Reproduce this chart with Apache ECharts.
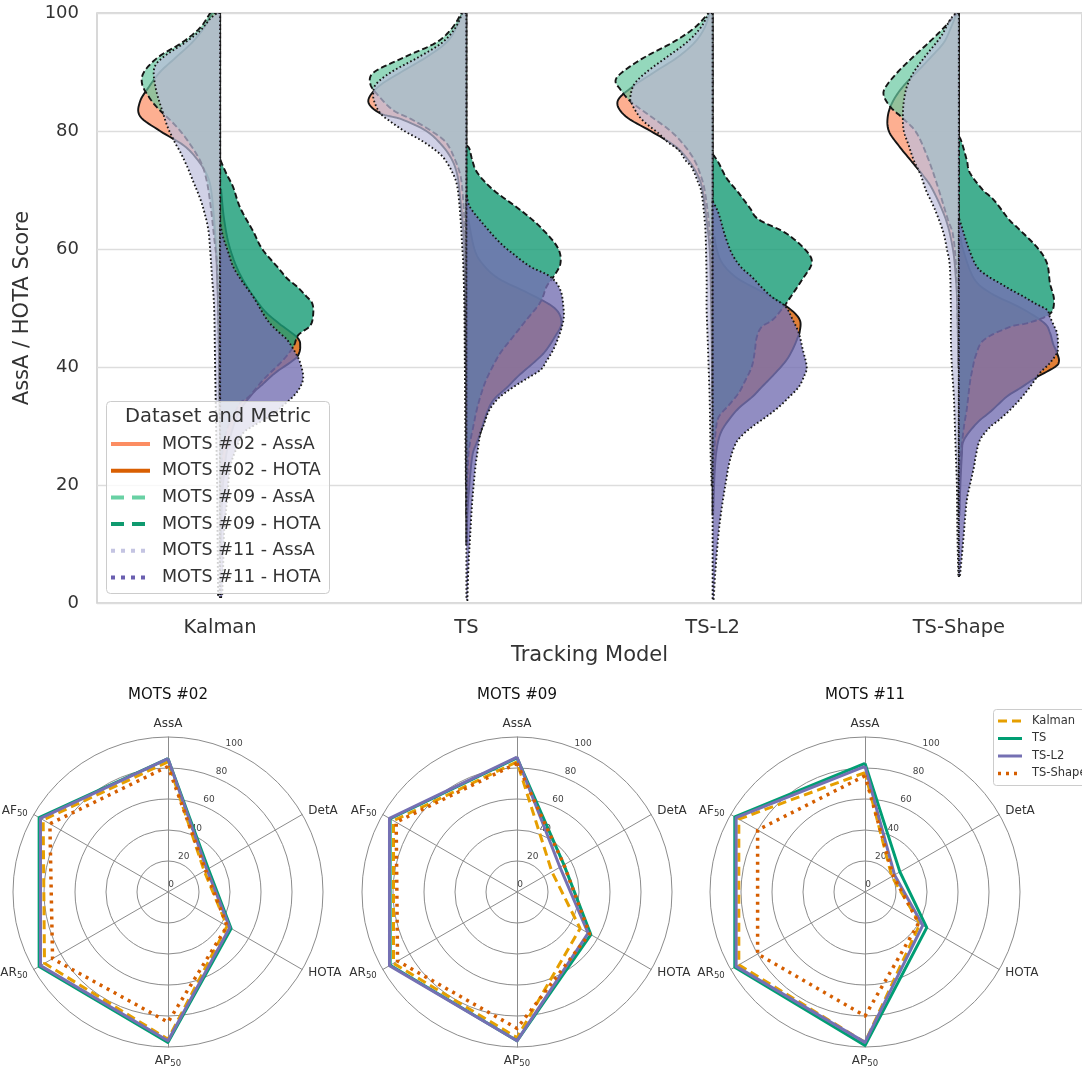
<!DOCTYPE html>
<html lang="en">
<head>
    <meta charset="utf-8">
    <title>Tracking model violins and radars</title>
    <script src="https://cdn.jsdelivr.net/npm/echarts@6/dist/echarts.min.js"></script>
    <style>
        html, body { margin: 0; padding: 0; background: #fff; }
        #main { width: 1082px; height: 1071px; }
    </style>
</head>
<body>
    <div id="main"></div>
    <script type="text/javascript">

    // --- violin part: categories and KDE profiles ---
    // each profile is a list of [score, density] pairs, density in units where 123 = a full half band
    var models = ['Kalman', 'TS', 'TS-L2', 'TS-Shape'];
    var DENS_HALF = 123;

    var assa02 = [
        [[100,8],[97.5,16],[95,28],[92.5,44],[90,60],[87.5,71],[85,80],[82.5,80],[80,60],[77.5,36],[75,22],[72.5,13],[70,9],[65,6],[60,4],[55,3],[50,2],[40,1],[30,0.5]],
        [[100,4],[97.5,10],[95,20],[92.5,40],[90,65],[87.5,88],[85,98],[83,86],[82,65],[80,40],[77.5,24],[75,14],[72.5,9],[70,7],[65,4],[60,2],[50,1],[40,0.5]],
        [[100,3],[97.5,8],[95,18],[92.5,35],[90,58],[87.5,80],[85,95],[82.5,87],[80,62],[77.5,38],[75,24],[72.5,15],[70,10],[65,6],[60,3],[55,2],[45,1],[35,0.5]],
        [[100,2],[97.5,8],[95,15],[92.5,28],[90,42],[87.5,56],[85,66],[82.5,71],[80,70],[77.5,60],[75,48],[72.5,36],[70,26],[65,13],[60,6],[55,3],[50,1.5],[40,0.5]]
    ];
    var assa09 = [
        [[100,10],[97.5,20],[95,38],[92.5,62],[90,76],[88,78],[86,72],[84,63],[81,45],[78.5,33],[75,20],[72,14],[68,10],[62,6],[57,3],[50,2],[40,1],[30,0.5]],
        [[100,5],[97.5,14],[95,30],[92.5,62],[90,92],[88,96],[86,88],[83.5,73],[82,55],[80,35],[78,20],[75,11],[72.5,6],[70,4],[65,2],[60,1],[50,0.5]],
        [[100,4],[97.5,18],[95,40],[92.5,68],[90,90],[88.5,97],[87,92],[85,82],[82.5,62],[80,42],[77.5,28],[75,18],[72.5,12],[70,8],[65,4],[60,2],[55,1],[45,0.5]],
        [[100,2],[97.5,15],[95,30],[92.5,46],[90,61],[87.5,73],[86,75],[84,68],[82,55],[79.6,42],[75,30],[70,20],[65,11],[62.5,6],[57.5,3],[50,1.5],[40,0.5]]
    ];
    var assa11 = [
        [[100,3],[99,10],[97,20],[95,35],[92.5,57],[90.5,66],[87,64],[83,57],[80.5,52],[78,45],[76.5,40],[74,33],[71.5,27],[69,21],[67,17],[63.5,12],[60,10],[55,8],[50,6],[40,5],[30,4],[20,3],[10,2.5],[1,2]],
        [[100,4],[97.5,11],[95,24],[92.5,48],[90,75],[88,90],[86.5,93],[85,92],[83,86],[81.5,75],[80,62],[78.5,46],[77,33],[75.5,23],[73,14],[70.5,9],[65.5,6],[60,4],[57,3],[50,2],[40,1.5],[30,1],[20,0.5]],
        [[100,4],[97.5,12],[95,26],[92.5,46],[90,66],[88,78],[86,82],[84.7,81],[82,71],[79.6,54],[78,44],[76.8,34],[75,27],[73.9,21],[71.5,15],[69.5,11],[65,8],[62.5,7],[55,6],[50,6],[45,5],[40,4],[35,3],[30,2.5],[25,2],[20,1]],
        [[100,3],[98.8,9],[96,18],[93,32],[90,45],[87.5,52],[85,55],[82.5,56],[80,55],[77.5,50],[75,45],[72.5,38],[70,33],[67.5,26],[65,20],[62.5,15],[60,12],[57,9],[50,8],[45,8],[40,7],[35,5],[30,4],[25,3],[20,2],[12,1.5],[4.5,0.5]]
    ];
    var hota02 = [
        [[70,1],[65,4],[60,10],[55,22],[50,42],[47.5,58],[45,77],[43.5,80],[42,78],[41,72],[39,55],[37,42],[35.6,33],[32.7,20],[29.8,13],[26,7],[22,4],[18,2],[12,1],[8,0.5]],
        [[65,2],[60,8],[57.5,16],[55,32],[52.5,62],[50,88],[47.5,95],[45,88],[42.5,78],[40.7,67],[38.5,52],[36.6,41],[34.4,27],[32,20],[28.8,14],[27,10],[25,6],[20,3],[15,1],[10,0.5]],
        [[62,2],[60,4],[57.5,10],[55,25],[52.5,52],[50,76],[48,87],[46,87],[45,85],[43,80],[41,73],[38.5,60],[36.6,49],[35,40],[33,26],[31,16],[28.8,8],[26,4],[22,2],[15,0.5]],
        [[62,2],[60,4],[55,15],[52.5,32],[50,62],[47.5,85],[45.8,91],[44,94],[42.4,98],[41,100],[40,96],[38.3,78],[36.5,62],[35,48],[32.5,32],[30.5,18],[27.6,5],[25,3],[20,1.5],[15,0.5]]
    ];
    var hota09 = [
        [[75,0.5],[74,3],[72.5,7],[70.5,13],[67,20],[63,33],[60,42],[57,57],[55,67],[53.6,77],[52,86],[50.8,92],[49,93],[47,90],[45.4,78],[43.4,73],[41,62],[38,44],[35,29],[33.9,20],[32,14],[30,8],[27.5,4],[25,2],[20,1],[15,0.5]],
        [[77.5,0.5],[77,3],[75,6],[72.9,11],[70,27],[66.6,54],[63.7,74],[60.3,91],[57.6,94],[55.3,87],[53.6,80],[51,74],[48,60],[45,46],[42.4,34],[40,26],[37.5,19],[35,14],[32.5,10],[30,7],[27.5,4],[25,2],[20,1],[15,0.5]],
        [[76,0.5],[74.6,6],[72,14],[69.5,26],[67,37],[65,46],[62.7,73],[59.8,93],[57.6,99],[54.7,89],[51.4,76],[50.2,71],[48,60],[46.8,49],[45,44],[42.5,42],[40,39],[37.5,32],[35.6,26],[33.5,16],[31.5,6],[29,3],[25,1.5],[20,0.5]],
        [[79,0.5],[78,3],[75,8],[72.9,11],[70,24],[68.3,35],[65,50],[63.7,58],[60.3,78],[57.6,88],[54.2,91],[51.4,95],[49,91],[47.5,70],[46.8,51],[44.6,25],[42,17],[40,14],[37.3,11],[33,8],[29.8,5],[25,2],[20,1],[15,0.5]]
    ];
    var hota11 = [
        [[64,0.5],[62,3],[59.5,8],[57,13],[54.5,22],[51.9,33],[48,47],[46,58],[44.6,67],[42.5,75],[40.7,80],[38.3,83],[36.6,80],[35,73],[33.5,63],[32,53],[30,33],[28.8,23],[26.5,17],[23,10],[17.5,7],[12,4],[6,3],[1,2]],
        [[69,0.5],[67,4],[64,18],[61,34],[59,48],[57,64],[55.3,84],[53,94],[50,97],[48,97],[45.5,93],[43,87],[41,80],[39.5,74],[38,60],[36.6,47],[35,34],[33.5,26],[32,21],[30,17],[28.8,14],[25.5,11],[23,9],[17.5,6],[12,4],[6,2],[0.5,1]],
        [[68,0.5],[66,6],[62.5,12],[59.3,19],[57,28],[55.3,39],[53.5,49],[51.9,59],[50.2,73],[48,80],[45.8,86],[43,90],[40,94],[38.3,91],[36.6,86],[35,77],[33.2,66],[31.5,53],[29.8,39],[28.5,30],[27,23],[24,17],[20.3,13],[16,9],[11.9,6],[6,3],[0.5,1]],
        [[65,0.5],[63.7,3],[60,10],[57,18],[55.5,28],[54.2,41],[53,53],[51.9,65],[50.7,77],[49.7,88],[48.5,91],[47,95],[45.8,98],[44,99],[42.4,98],[40.5,90],[39,81],[36.6,71],[34.5,61],[32.7,51],[31,40],[29.8,31],[27.6,21],[25,17],[23,15],[20,11],[17.5,8],[14,6],[11.9,5],[8,3],[4.4,1]]
    ];

    var violinNames = ['MOTS #02 - AssA', 'MOTS #02 - HOTA', 'MOTS #09 - AssA', 'MOTS #09 - HOTA', 'MOTS #11 - AssA', 'MOTS #11 - HOTA'];

    // --- radar part: scores in clockwise order from the top ---
    var radarAxes = ['AssA', 'DetA', 'HOTA', 'AP50', 'AR50', 'AF50'];
    var radarTitles = ['MOTS #02', 'MOTS #09', 'MOTS #11'];
    var radarTicks = [0, 20, 40, 60, 80, 100];
    var radar02 = [
        [84, 27, 44, 95, 92, 93],   // Kalman
        [86, 30, 47, 97, 96, 96],   // TS
        [86, 29, 46, 96, 95, 95],   // TS-L2
        [81, 28, 44, 84, 86, 88]    // TS-Shape
    ];
    var radar09 = [
        [84, 26, 47, 94, 92, 92],
        [86.5, 35, 55, 96, 94.5, 94.5],
        [87, 32, 53, 96, 95, 95],
        [83, 35, 54, 88, 89, 90]
    ];
    var radar11 = [
        [77, 20, 41, 97, 94, 94],
        [83, 26, 46, 99, 97, 97],
        [81, 22, 43, 97, 96, 96],
        [75, 21, 40, 80, 80, 80]
    ];

    var FONT = 'DejaVu Sans';

    // catmull-rom through the profile points so the outline is smooth
    function smoothPts(pts, n) {
        var out = [];
        for (var i = 0; i < pts.length - 1; i++) {
            var p0 = pts[Math.max(i - 1, 0)], p1 = pts[i], p2 = pts[i + 1], p3 = pts[Math.min(i + 2, pts.length - 1)];
            for (var t = 0; t < n; t++) {
                var s = t / n, s2 = s * s, s3 = s2 * s;
                var pt = [0, 1].map(function (k) {
                    return 0.5 * ((2 * p1[k]) + (-p0[k] + p2[k]) * s +
                        (2 * p0[k] - 5 * p1[k] + 4 * p2[k] - p3[k]) * s2 +
                        (-p0[k] + 3 * p1[k] - 3 * p2[k] + p3[k]) * s3);
                });
                out.push(pt);
            }
        }
        out.push(pts[pts.length - 1]);
        return out;
    }

    function violinRender(assaP, hotaP, fillL, fillR, dash) {
        return function (params, api) {
            var cat = api.value(0), side = api.value(1);
            var prof = side < 0 ? assaP[cat] : hotaP[cat];
            var half = api.size([1, 0])[0] / 2;
            var cx = api.coord([cat, 50])[0];
            var raw = prof.map(function (p) {
                var c = api.coord([cat, p[0]]);
                return [c[0] + side * p[1] / DENS_HALF * half, c[1]];
            });
            var curve = smoothPts(raw, 8).map(function (p) {
                return [side < 0 ? Math.min(p[0], cx) : Math.max(p[0], cx), p[1]];
            });
            var top = api.coord([cat, prof[0][0]]);
            var bot = api.coord([cat, prof[prof.length - 1][0]]);
            var pts = [top].concat(curve, [bot]);
            return {
                type: 'polygon',
                shape: { points: pts },
                style: {
                    fill: side < 0 ? fillL : fillR,
                    stroke: '#151515',
                    lineWidth: 1.9,
                    lineDash: dash
                }
            };
        };
    }

    var violinData = [];
    models.forEach(function (m, i) { violinData.push([i, -1]); violinData.push([i, 1]); });

    var violinSeries = [
        { a: assa02, h: hota02, l: 'rgba(252,141,98,0.7)', r: 'rgba(217,95,2,0.8)', d: null },
        { a: assa09, h: hota09, l: 'rgba(102,200,160,0.7)', r: 'rgba(27,158,119,0.82)', d: [6, 3] },
        { a: assa11, h: hota11, l: 'rgba(188,189,220,0.7)', r: 'rgba(117,112,179,0.8)', d: [1.6, 2.4] }
    ].map(function (s, k) {
        return {
            type: 'custom',
            name: 'violin' + k,
            xAxisIndex: 0,
            yAxisIndex: 0,
            clip: true,
            renderItem: violinRender(s.a, s.h, s.l, s.r, s.d),
            encode: { x: 0, y: -1 },
            data: violinData,
            silent: true
        };
    });

    // --- radars ---
    var centers = [[168, 892], [517, 892], [865, 892]];
    var RADAR_R = 155;
    // echarts places indicators counter-clockwise, the figure reads clockwise
    var ccwOrder = [0, 5, 4, 3, 2, 1];
    var methodStyles = [
        { name: 'Kalman', color: '#e69f00', type: [9, 5], width: 3 },
        { name: 'TS', color: '#009e73', type: 'solid', width: 3 },
        { name: 'TS-L2', color: '#7570b3', type: 'solid', width: 3 },
        { name: 'TS-Shape', color: '#d55e00', type: [3, 5], width: 3.5 }
    ];
    var radarScores = [radar02, radar09, radar11];

    function fmtName(name) {
        return name.replace(/^(\D+)(\d+)$/, '$1{sub|$2}');
    }

    var radars = centers.map(function (c) {
        return {
            center: c,
            radius: RADAR_R,
            startAngle: 90,
            shape: 'circle',
            splitNumber: 5,
            indicator: ccwOrder.map(function (j) { return { name: radarAxes[j], min: 0, max: 100 }; }),
            axisName: {
                color: '#333', fontSize: 12, fontFamily: FONT,
                formatter: fmtName,
                rich: { sub: { fontSize: 8.5, color: '#333', fontFamily: FONT, verticalAlign: 'bottom', padding: [5, 0, 0, 0] } }
            },
            nameGap: 7,
            splitLine: { lineStyle: { color: '#8c8c8c', width: 1 } },
            splitArea: { show: false },
            axisLine: { lineStyle: { color: '#8c8c8c', width: 1 } },
            axisTick: { show: false },
            axisLabel: { show: false }
        };
    });

    var radarSeries = radarScores.map(function (scores, r) {
        return {
            type: 'radar',
            radarIndex: r,
            symbol: 'none',
            silent: true,
            data: scores.map(function (vals, m) {
                return {
                    name: methodStyles[m].name,
                    value: ccwOrder.map(function (j) { return vals[j]; }),
                    lineStyle: { color: methodStyles[m].color, width: methodStyles[m].width, type: methodStyles[m].type },
                    itemStyle: { color: methodStyles[m].color }
                };
            })
        };
    });

    // radial tick labels come from a hidden polar system laid over each radar;
    // its axis starts a little below 0 so the labels sit just outside each ring
    var LABEL_PAD = 5;
    var polars = centers.map(function (c) {
        return { center: c, radius: RADAR_R * (100 + LABEL_PAD) / 100 };
    });
    var angleAxes = centers.map(function (c, i) {
        return { polarIndex: i, type: 'value', min: 0, max: 360, startAngle: 66, show: false };
    });
    var radiusAxes = centers.map(function (c, i) {
        return {
            polarIndex: i, type: 'value', min: -LABEL_PAD, max: 100,
            axisLine: { show: false }, axisTick: { show: false }, splitLine: { show: false },
            axisLabel: {
                customValues: radarTicks,
                fontSize: 9, color: '#444', fontFamily: FONT, margin: 0,
                align: 'center', verticalAlign: 'middle'
            }
        };
    });

    // --- legends and small titles as graphic text ---
    var violinLegendStyles = [
        { c: '#fc8d62', d: null }, { c: '#d95f02', d: null },
        { c: '#69d1a4', d: [13, 8] }, { c: '#0f9a6f', d: [13, 8] },
        { c: '#c4c4e2', d: [4, 6] }, { c: '#6a5fb0', d: [4, 6] }
    ];
    var graphics = [
        { type: 'rect', z: 100, shape: { x: 106.5, y: 401.5, width: 223, height: 192, r: 4 },
          style: { fill: 'rgba(255,255,255,0.8)', stroke: '#cccccc', lineWidth: 1 } },
        { type: 'text', z: 101, x: 218, y: 417,
          style: { text: 'Dataset and Metric', fill: '#333', font: '19.5px "DejaVu Sans"', align: 'center', verticalAlign: 'middle' } }
    ];
    violinNames.forEach(function (n, i) {
        var y = 444 + i * 26.7;
        graphics.push({ type: 'line', z: 101, shape: { x1: 111, y1: y, x2: 150, y2: y },
            style: { stroke: violinLegendStyles[i].c, lineWidth: 4, lineDash: violinLegendStyles[i].d } });
        graphics.push({ type: 'text', z: 101, x: 162, y: y,
            style: { text: n, fill: '#333', font: '17.5px "DejaVu Sans"', align: 'left', verticalAlign: 'middle' } });
    });
    radarTitles.forEach(function (t, i) {
        graphics.push({ type: 'text', z: 101, x: centers[i][0], y: 695,
            style: { text: t, fill: '#111', font: '15px "DejaVu Sans"', align: 'center', verticalAlign: 'middle' } });
    });
    graphics.push({ type: 'rect', z: 100, shape: { x: 993.5, y: 709.5, width: 100, height: 76, r: 3 },
        style: { fill: 'rgba(255,255,255,0.8)', stroke: '#cccccc', lineWidth: 1 } });
    methodStyles.forEach(function (m, i) {
        var y = 721 + i * 17.5;
        graphics.push({ type: 'line', z: 101, shape: { x1: 998, y1: y, x2: 1022, y2: y },
            style: { stroke: m.color, lineWidth: m.width, lineDash: m.type === 'solid' ? null : m.type } });
        graphics.push({ type: 'text', z: 101, x: 1032, y: y,
            style: { text: m.name, fill: '#333', font: '11.5px "DejaVu Sans"', align: 'left', verticalAlign: 'middle' } });
    });

    var chart = echarts.init(document.getElementById('main'), null, { renderer: 'canvas' });
    chart.setOption({
        animation: false,
        backgroundColor: '#ffffff',
        textStyle: { fontFamily: FONT },
        grid: {
            left: 97, top: 13, right: 0, height: 590,
            show: true, borderColor: '#cccccc', borderWidth: 1.5
        },
        xAxis: {
            type: 'category',
            data: models,
            boundaryGap: true,
            axisLine: { show: false },
            axisTick: { show: false },
            axisLabel: { fontSize: 19.5, color: '#333', margin: 15 },
            name: 'Tracking Model',
            nameLocation: 'middle',
            nameGap: 42,
            nameTextStyle: { fontSize: 21, color: '#333' }
        },
        yAxis: {
            type: 'value',
            min: 0, max: 100, interval: 20,
            axisLine: { show: false },
            axisTick: { show: false },
            axisLabel: { fontSize: 18, color: '#333', margin: 18 },
            splitLine: { lineStyle: { color: '#dddddd', width: 1.3 } },
            name: 'AssA / HOTA Score',
            nameLocation: 'middle',
            nameGap: 64,
            nameTextStyle: { fontSize: 21, color: '#333' }
        },
        radar: radars,
        polar: polars,
        angleAxis: angleAxes,
        radiusAxis: radiusAxes,
        series: violinSeries.concat(radarSeries),
        graphic: graphics
    });
    </script>
</body>
</html>
